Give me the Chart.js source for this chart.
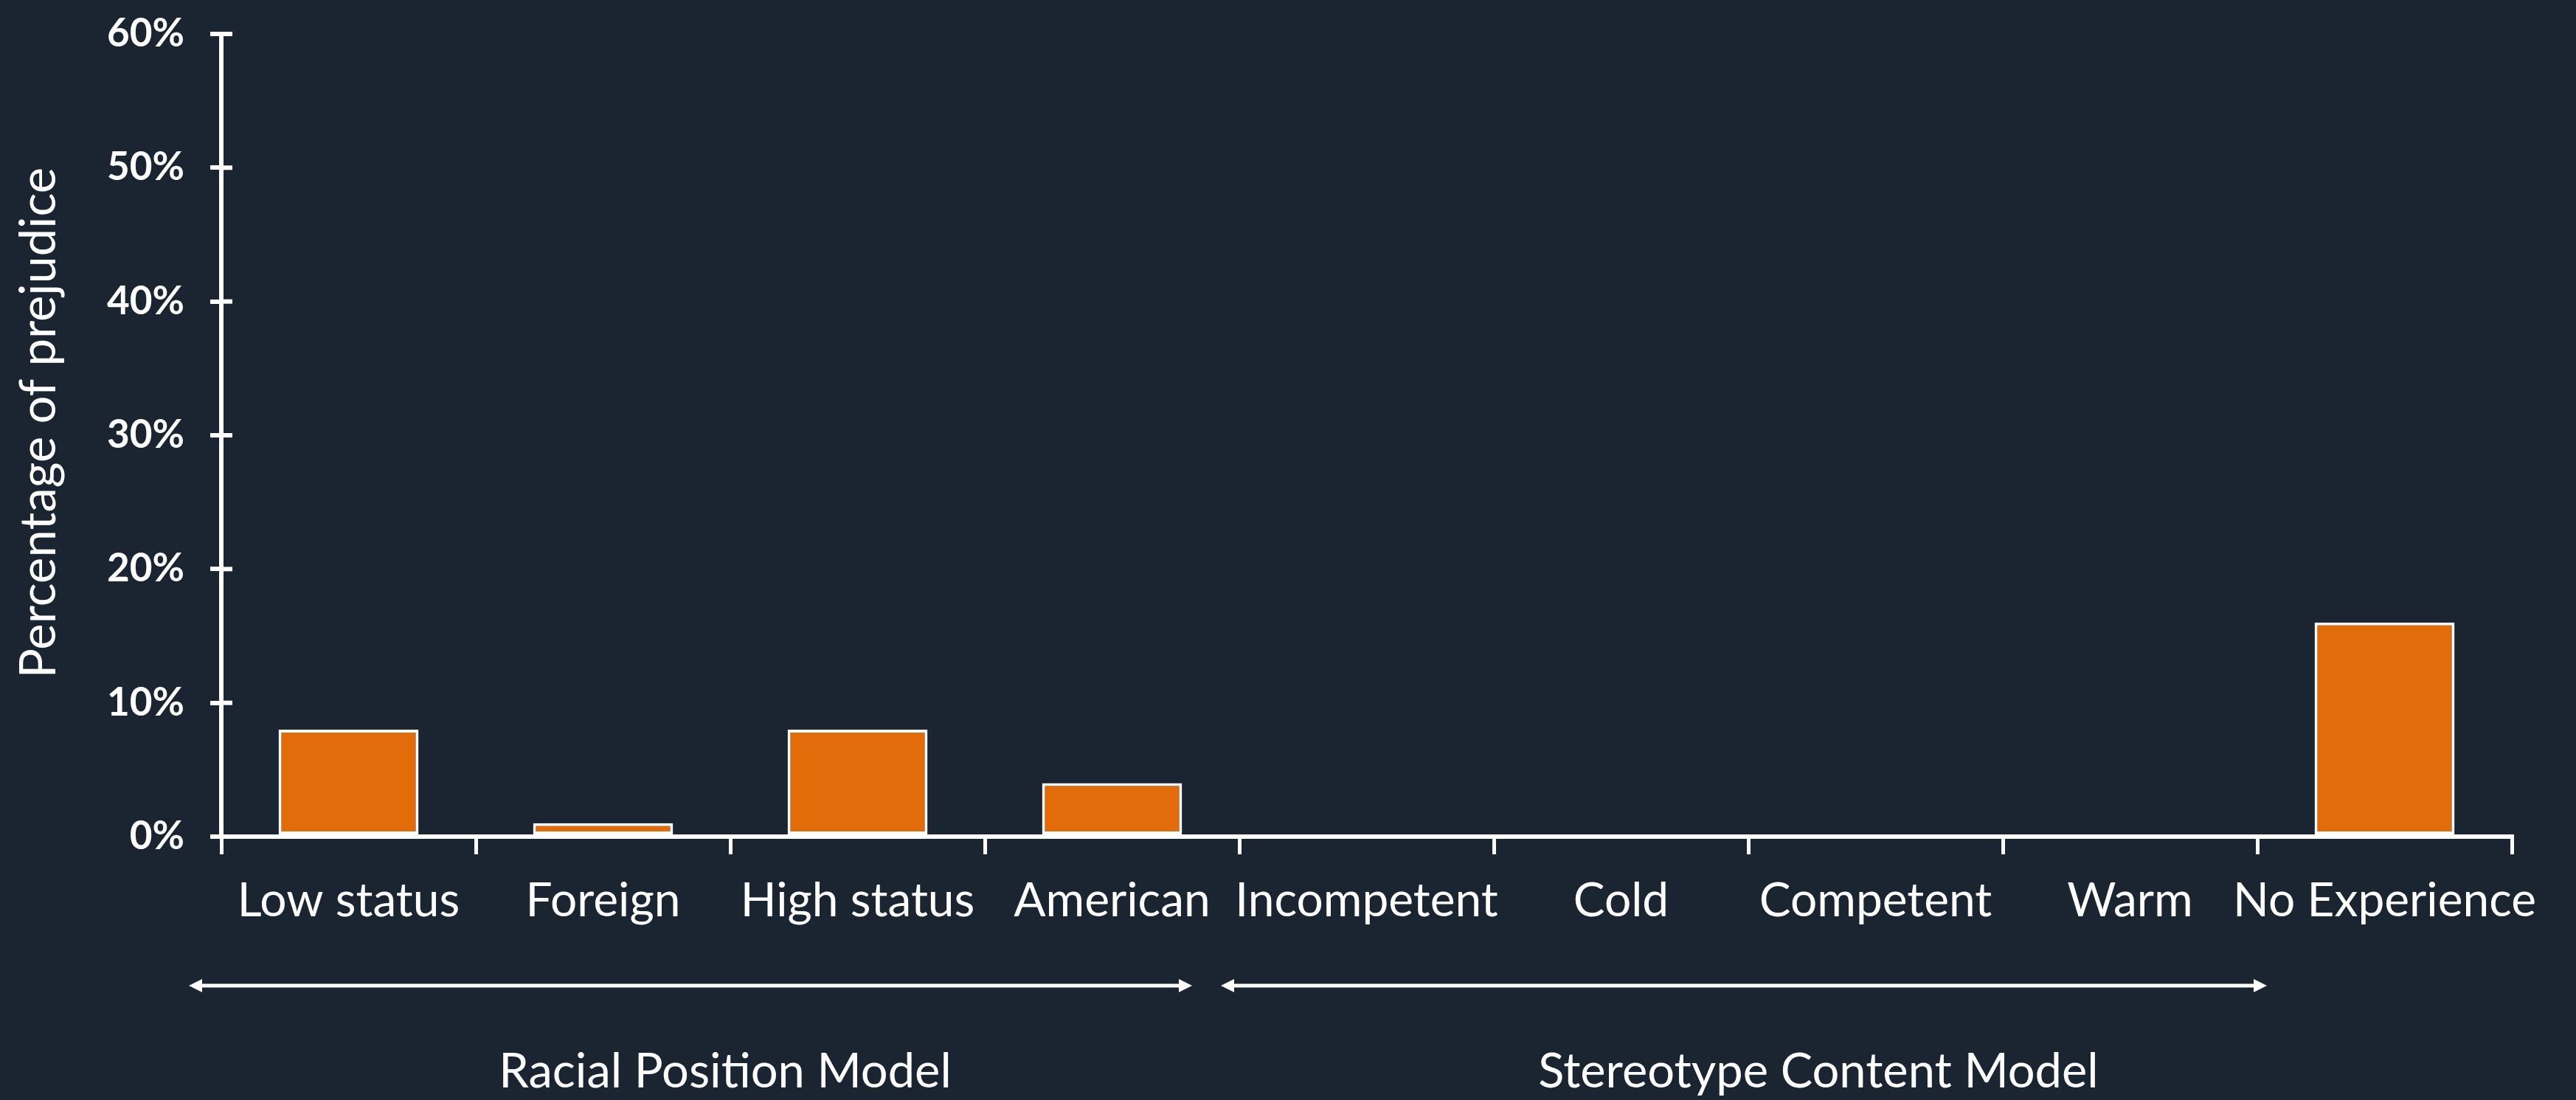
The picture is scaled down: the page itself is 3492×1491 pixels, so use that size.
<!DOCTYPE html>
<html>
<head>
<meta charset="utf-8">
<script src="https://cdn.jsdelivr.net/npm/chart.js@4.4.1/dist/chart.umd.min.js"></script>
<style>
  html, body { margin: 0; padding: 0; background: #1b2531; }
  #wrap { width: 3492px; height: 1491px; position: relative; }
</style>
</head>
<body>
<div id="wrap"><canvas id="chart"></canvas></div>
<script>
// Bar categories and their prejudice percentages
const categories = ['Low status', 'Foreign', 'High status', 'American',
                    'Incompetent', 'Cold', 'Competent', 'Warm', 'No Experience'];
const prejudice = [8, 1, 8, 4, 0, 0, 0, 0, 16];

// Y axis ticks (percent)
const yTicks = [0, 10, 20, 30, 40, 50, 60];

// Model groupings shown under the axis: first / last category index covered
const groupNames = ['Racial Position Model', 'Stereotype Content Model'];
const groupStart = [0, 4];
const groupEnd = [3, 7];

const BG = '#1b2531';
const ORANGE = '#e36c0a';
const WHITE = '#ffffff';
const FONT = 'Lato, "Open Sans", sans-serif';

// Extra decorations: inner half of the y ticks, axis title, group arrows and names
const decorations = {
  id: 'decorations',
  afterDraw(chart) {
    const ctx = chart.ctx;
    const x = chart.scales.x;
    const y = chart.scales.y;
    ctx.save();

    // inner tick marks on the y axis
    ctx.strokeStyle = WHITE;
    ctx.lineWidth = 6;
    yTicks.forEach(v => {
      const py = y.getPixelForValue(v);
      ctx.beginPath();
      ctx.moveTo(x.left, py);
      ctx.lineTo(x.left + 15, py);
      ctx.stroke();
    });

    // y axis title
    ctx.fillStyle = WHITE;
    ctx.font = '400 67px ' + FONT;
    ctx.textAlign = 'center';
    ctx.textBaseline = 'alphabetic';
    ctx.translate(75, 573);
    ctx.rotate(-Math.PI / 2);
    ctx.fillText('Percentage of prejudice', 0, 0);
    ctx.setTransform(1, 0, 0, 1, 0, 0);

    // group arrows
    const band = (x.getPixelForValue(1) - x.getPixelForValue(0));
    const arrowY = 1336;
    const ends = [
      [x.getPixelForValue(groupStart[0]) - band * 0.5 - 44, x.getPixelForValue(groupEnd[0]) + band * 0.5 - 64],
      [x.getPixelForValue(groupStart[1]) - band * 0.5 - 25, x.getPixelForValue(groupEnd[1]) + band * 0.5 + 13]
    ];
    const labelX = [983, 2465];
    ends.forEach(([a, b], i) => {
      ctx.strokeStyle = WHITE;
      ctx.fillStyle = WHITE;
      ctx.lineWidth = 5;
      ctx.beginPath();
      ctx.moveTo(a + 16, arrowY);
      ctx.lineTo(b - 16, arrowY);
      ctx.stroke();
      // heads
      ctx.beginPath();
      ctx.moveTo(a, arrowY);
      ctx.lineTo(a + 18, arrowY - 9);
      ctx.lineTo(a + 18, arrowY + 9);
      ctx.closePath();
      ctx.fill();
      ctx.beginPath();
      ctx.moveTo(b, arrowY);
      ctx.lineTo(b - 18, arrowY - 9);
      ctx.lineTo(b - 18, arrowY + 9);
      ctx.closePath();
      ctx.fill();

      ctx.font = '400 65px ' + FONT;
      ctx.textAlign = 'center';
      ctx.textBaseline = 'alphabetic';
      ctx.fillText(groupNames[i], labelX[i], 1474);
    });

    ctx.restore();
  }
};

new Chart(document.getElementById('chart'), {
  type: 'bar',
  data: {
    labels: categories,
    datasets: [{
      data: prejudice,
      backgroundColor: ORANGE,
      borderColor: WHITE,
      borderWidth: 4,
      borderSkipped: false,
      categoryPercentage: 1,
      barPercentage: 0.55
    }]
  },
  options: {
    responsive: true,
    maintainAspectRatio: false,
    animation: false,
    devicePixelRatio: 1,
    layout: { padding: { top: 46, right: 87, left: 0, bottom: 0 } },
    plugins: { legend: { display: false }, tooltip: { enabled: false } },
    scales: {
      x: {
        offset: true,
        grid: {
          offset: true,
          drawOnChartArea: false,
          drawTicks: true,
          tickLength: 24,
          color: WHITE,
          lineWidth: 5
        },
        border: { display: true, color: WHITE, width: 6, z: 1 },
        ticks: {
          color: WHITE,
          font: { family: FONT, size: 64, weight: '400' },
          padding: 25,
          autoSkip: false,
          maxRotation: 0,
          minRotation: 0
        },
        afterFit(scale) { scale.height = 357; }
      },
      y: {
        min: 0,
        max: 60,
        afterBuildTicks(scale) { scale.ticks = yTicks.map(v => ({ value: v })); },
        grid: {
          drawOnChartArea: false,
          drawTicks: true,
          tickLength: 15,
          color: WHITE,
          lineWidth: 6
        },
        border: { display: true, color: WHITE, width: 6, z: 1 },
        ticks: {
          color: WHITE,
          font: { family: FONT, size: 53, weight: '700' },
          padding: 35,
          callback: v => v + '%'
        },
        afterFit(scale) {
          scale.width = 300;
          // let the layout padding alone decide the plot's top edge
          scale.paddingTop = 0;
          scale.paddingBottom = 0;
        }
      }
    }
  },
  plugins: [decorations]
});
</script>
</body>
</html>
